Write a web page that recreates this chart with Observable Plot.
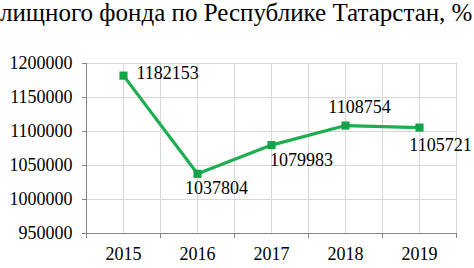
<!DOCTYPE html>
<html><head><meta charset="utf-8">
<script src="https://cdn.jsdelivr.net/npm/d3@7"></script>
<script src="https://cdn.jsdelivr.net/npm/@observablehq/plot@0.6"></script>
</head><body style="margin:0;background:#fff;width:474px;height:268px;overflow:hidden;font-family:'Liberation Serif'">
<div id="title" style="position:absolute;left:0px;top:-2px;font-size:25px;white-space:nowrap;color:#000;line-height:30px;font-family:'Liberation Serif'">лищного фонда по Республике Татарстан, %</div>
<div id="chart" style="position:absolute;left:0;top:40px;font-family:'Liberation Serif'"></div>
<script>
const years = [2015, 2016, 2017, 2018, 2019];
const values = [1182153, 1037804, 1079983, 1108754, 1105721];
const yTicks = [950000, 1000000, 1050000, 1100000, 1150000, 1200000];

const data = years.map((y, i) => ({year: y, value: values[i]}));
const bounds = [years[0] - 0.5, ...years.map(y => y + 0.5)];
const gridX = [...years, ...bounds];
const FF = "'Liberation Serif'";
const font = {fontSize: 18, fill: "#000"};
const green = "#1fae4f";

const label = (i, opts) => Plot.text([data[i]], {x: "year", y: "value", text: d => String(d.value), ...font, ...opts});

const chart = Plot.plot({
  width: 474, height: 228,
  marginLeft: 86, marginRight: 18, marginTop: 23, marginBottom: 35,
  style: {fontSize: "18px", color: "#000", background: "#fff"},
  x: {domain: [bounds[0], bounds[bounds.length - 1]]},
  y: {domain: [yTicks[0], yTicks[yTicks.length - 1]]},
  marks: [
    Plot.ruleX(gridX, {stroke: "#d9d9d9", strokeWidth: 1}),
    Plot.ruleY(yTicks, {stroke: "#d9d9d9", strokeWidth: 1}),
    Plot.ruleY([yTicks[0]], {stroke: "#868686", strokeWidth: 1}),
    Plot.ruleX([bounds[0]], {stroke: "#868686", strokeWidth: 1}),
    Plot.axisY({ticks: yTicks, tickFormat: d => String(d), tickSize: 4, tickPadding: 10, stroke: "#868686", label: null, fontSize: 18}),
    Plot.axisX({ticks: bounds, tickFormat: () => "", tickSize: 5, stroke: "#868686", label: null}),
    Plot.axisX({ticks: years, tickFormat: d => String(d), tickSize: 0, tickPadding: 14, label: null, fontSize: 18}),
    Plot.line(data, {x: "year", y: "value", stroke: green, strokeWidth: 3.2}),
    Plot.dot(data, {x: "year", y: "value", symbol: "square", r: 4.6, fill: "#14a447", stroke: "none"}),
    label(0, {textAnchor: "start", dx: 13, dy: -2}),
    label(1, {dx: 19, dy: 14}),
    label(2, {dx: 30, dy: 15}),
    label(3, {dx: 14, dy: -18}),
    label(4, {dx: 21, dy: 18})
  ]
});
chart.style.setProperty("font-family", FF, "important");
chart.querySelectorAll("text, g").forEach(t => t.style.setProperty("font-family", FF, "important"));
document.getElementById("chart").appendChild(chart);
</script>
</body></html>
